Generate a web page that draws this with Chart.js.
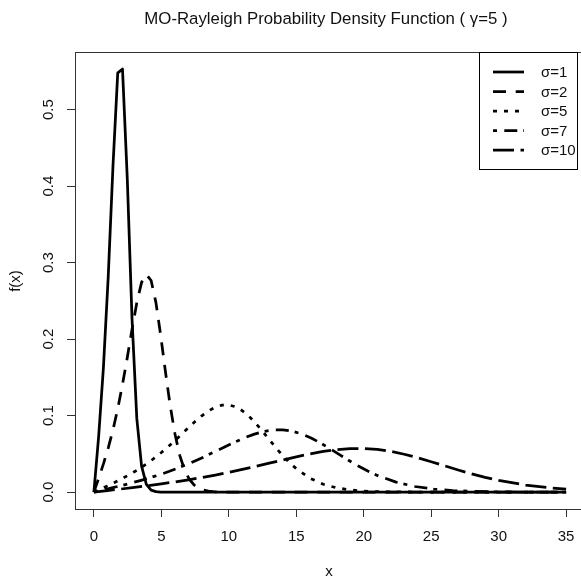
<!DOCTYPE html>
<html>
<head>
<meta charset="utf-8">
<script src="https://cdn.jsdelivr.net/npm/chart.js@4/dist/chart.umd.min.js"></script>
<style>
  html, body { margin: 0; padding: 0; background: #fff; overflow: hidden; }
  #wrap { width: 590px; height: 582px; }
</style>
</head>
<body>
<div id="wrap"><canvas id="pdf" width="590" height="582"></canvas></div>
<script>
// values
const labels = ['σ=1', 'σ=2', 'σ=5', 'σ=7', 'σ=10'];
const dashes = [[], [13, 9.7], [4, 7], [4, 7.3, 13, 6], [21, 6.5]];

const x1 = [0, 0.354, 0.707, 1.061, 1.414, 1.768, 2.121, 2.475, 2.828, 3.182, 3.535, 3.889, 4.242, 4.596, 4.949, 35];
const y1 = [0, 0.073, 0.163, 0.281, 0.426, 0.548, 0.553, 0.410, 0.226, 0.096, 0.034, 0.010, 0.0026, 0.0006, 0, 0];

const x2 = [0, 0.354, 0.707, 1.061, 1.414, 1.768, 2.121, 2.475, 2.828, 3.182, 3.535, 3.889, 4.242, 4.596,
  4.949, 5.303, 5.657, 6.010, 6.364, 6.717, 7.071, 7.424, 7.778, 8.131, 8.485, 8.838, 9.192, 9.545, 35];
const y2 = [0, 0.0179, 0.0368, 0.0576, 0.0813, 0.1089, 0.1408, 0.1758, 0.2128, 0.2476, 0.2742, 0.2845, 0.2766, 0.2480,
  0.2052, 0.1575, 0.1128, 0.0759, 0.0480, 0.0290, 0.0168, 0.0094, 0.0050, 0.0026, 0.0013, 0.0006, 0.0003, 0, 0];

const x5 = [0, 0.5, 1, 1.5, 2, 2.5, 3, 3.5, 4, 4.5, 5, 5.5, 6, 6.5, 7, 7.5, 8, 8.5, 9, 9.5, 10,
  10.5, 11, 11.5, 12, 12.5, 13, 13.5, 14, 14.5, 15, 16, 17, 18, 19, 20, 21, 22.5, 25, 30, 35];
const y5 = [0, 0.0040, 0.0081, 0.0123, 0.0168, 0.0215, 0.0266, 0.0321, 0.0381, 0.0446, 0.0517, 0.0592, 0.0673,
  0.0756, 0.0840, 0.0922, 0.0997, 0.1062, 0.1110, 0.1137, 0.1139, 0.1115, 0.1064, 0.0991, 0.0898, 0.0795,
  0.0686, 0.0578, 0.0477, 0.0385, 0.0306, 0.0182, 0.0103, 0.0055, 0.0028, 0.0013, 0.0006, 0.0002, 0, 0, 0];

const x7 = [0, 0.7, 1.4, 2.1, 2.8, 3.5, 4.2, 4.9, 5.6, 6.3, 7, 7.7, 8.4, 9.1, 9.8, 10.5, 11.2, 11.9, 12.6, 13.3,
  14, 14.7, 15.4, 16.1, 16.8, 17.5, 18.2, 18.9, 19.6, 20.3, 21, 22.4, 23.8, 25.2, 26.6, 28, 29.4, 31.5, 35];
const y7 = [0, 0.0029, 0.0058, 0.0088, 0.0120, 0.0154, 0.0190, 0.0229, 0.0272, 0.0319, 0.0369, 0.0423, 0.0480,
  0.0540, 0.0600, 0.0658, 0.0712, 0.0758, 0.0793, 0.0812, 0.0814, 0.0796, 0.0760, 0.0708, 0.0642, 0.0568,
  0.0490, 0.0413, 0.0341, 0.0275, 0.0218, 0.0130, 0.0073, 0.0039, 0.0020, 0.0010, 0.0004, 0.0001, 0];

const x10 = [0, 1, 2, 3, 4, 5, 6, 7, 8, 9, 10, 11, 12, 13, 14, 15, 16, 17, 18, 19, 20,
  21, 22, 23, 24, 25, 26, 27, 28, 29, 30, 32, 34, 35];
const y10 = [0, 0.0020, 0.0040, 0.0062, 0.0084, 0.0108, 0.0133, 0.0161, 0.0191, 0.0223, 0.0258, 0.0296, 0.0336,
  0.0378, 0.0420, 0.0461, 0.0499, 0.0531, 0.0555, 0.0569, 0.0570, 0.0558, 0.0532, 0.0495, 0.0449, 0.0397,
  0.0343, 0.0289, 0.0238, 0.0193, 0.0153, 0.0091, 0.0051, 0.0038];

const xTicks = [0, 5, 10, 15, 20, 25, 30, 35];
const yTicks = [0, 0.1, 0.2, 0.3, 0.4, 0.5];

const FONT = '"Liberation Sans", Arial, sans-serif';
const series = [[x1, y1], [x2, y2], [x5, y5], [x7, y7], [x10, y10]];

const datasets = series.map(([xs, ys], i) => ({
  label: labels[i],
  data: xs.map((x, k) => ({ x: x, y: ys[k] })),
  borderColor: '#000',
  borderWidth: 2.75,
  borderDash: dashes[i],
  borderJoinStyle: 'round',
  pointRadius: 0,
  tension: 0,
  fill: false
}));

// R-style frame, rotated y tick labels, titles and legend box
const rDecor = {
  id: 'rDecor',
  afterDraw(chart) {
    const { ctx, chartArea: a, scales } = chart;
    ctx.save();
    ctx.strokeStyle = '#333';
    ctx.lineWidth = 1;
    ctx.strokeRect(Math.round(a.left) + 0.5, Math.round(a.top) + 0.5, a.right - a.left, a.bottom - a.top);

    ctx.fillStyle = '#111';
    ctx.font = '15px ' + FONT;
    ctx.textAlign = 'center';
    ctx.textBaseline = 'middle';
    scales.y.ticks.forEach(t => {
      const py = scales.y.getPixelForValue(t.value);
      ctx.save();
      ctx.translate(49, py);
      ctx.rotate(-Math.PI / 2);
      ctx.fillText(t.value.toFixed(1), 0, 0);
      ctx.restore();
    });

    ctx.fillText('x', 329, 572);
    ctx.save();
    ctx.translate(16, 281);
    ctx.rotate(-Math.PI / 2);
    ctx.fillText('f(x)', 0, 0);
    ctx.restore();

    ctx.font = '16.8px ' + FONT;
    ctx.fillText('MO-Rayleigh Probability Density Function ( γ=5 )', 326, 19);

    // legend
    ctx.font = '15px ' + FONT;
    const lx = 479.5, ly = 52.5, lw = 98, lh = 117;
    ctx.fillStyle = '#fff';
    ctx.fillRect(lx, ly, lw, lh);
    ctx.strokeStyle = '#000';
    ctx.strokeRect(lx, ly, lw, lh);
    chart.data.datasets.forEach((ds, i) => {
      const ry = 72 + i * 19.5;
      ctx.strokeStyle = '#000';
      ctx.lineWidth = ds.borderWidth;
      ctx.setLineDash(ds.borderDash);
      ctx.lineCap = 'butt';
      ctx.beginPath();
      ctx.moveTo(493, ry);
      ctx.lineTo(524, ry);
      ctx.stroke();
      ctx.setLineDash([]);
      ctx.fillStyle = '#111';
      ctx.textAlign = 'left';
      ctx.fillText(ds.label, 541, ry + 1);
    });
    ctx.restore();
  }
};

new Chart(document.getElementById('pdf'), {
  type: 'line',
  data: { datasets: datasets },
  options: {
    responsive: false,
    animation: false,
    devicePixelRatio: 1,
    layout: { padding: { top: 52, right: 5, left: 0, bottom: 0 } },
    plugins: { legend: { display: false }, tooltip: { enabled: false } },
    scales: {
      x: {
        type: 'linear',
        min: -1.4,
        max: 36.4,
        afterBuildTicks: (s) => { s.ticks = xTicks.map(v => ({ value: v })); },
        afterFit: (s) => { s.height = 73; },
        grid: { drawOnChartArea: false, tickLength: 8, color: '#333' },
        border: { color: '#333' },
        ticks: { font: { family: FONT, size: 15 }, color: '#111', padding: 11, maxRotation: 0, autoSkip: false }
      },
      y: {
        type: 'linear',
        min: -0.0221,
        max: 0.5753,
        afterBuildTicks: (s) => { s.ticks = yTicks.map(v => ({ value: v })); },
        afterFit: (s) => { s.width = 75; },
        grid: { drawOnChartArea: false, tickLength: 8, color: '#333' },
        border: { color: '#333' },
        ticks: { display: false }
      }
    }
  },
  plugins: [rDecor]
});
</script>
</body>
</html>
